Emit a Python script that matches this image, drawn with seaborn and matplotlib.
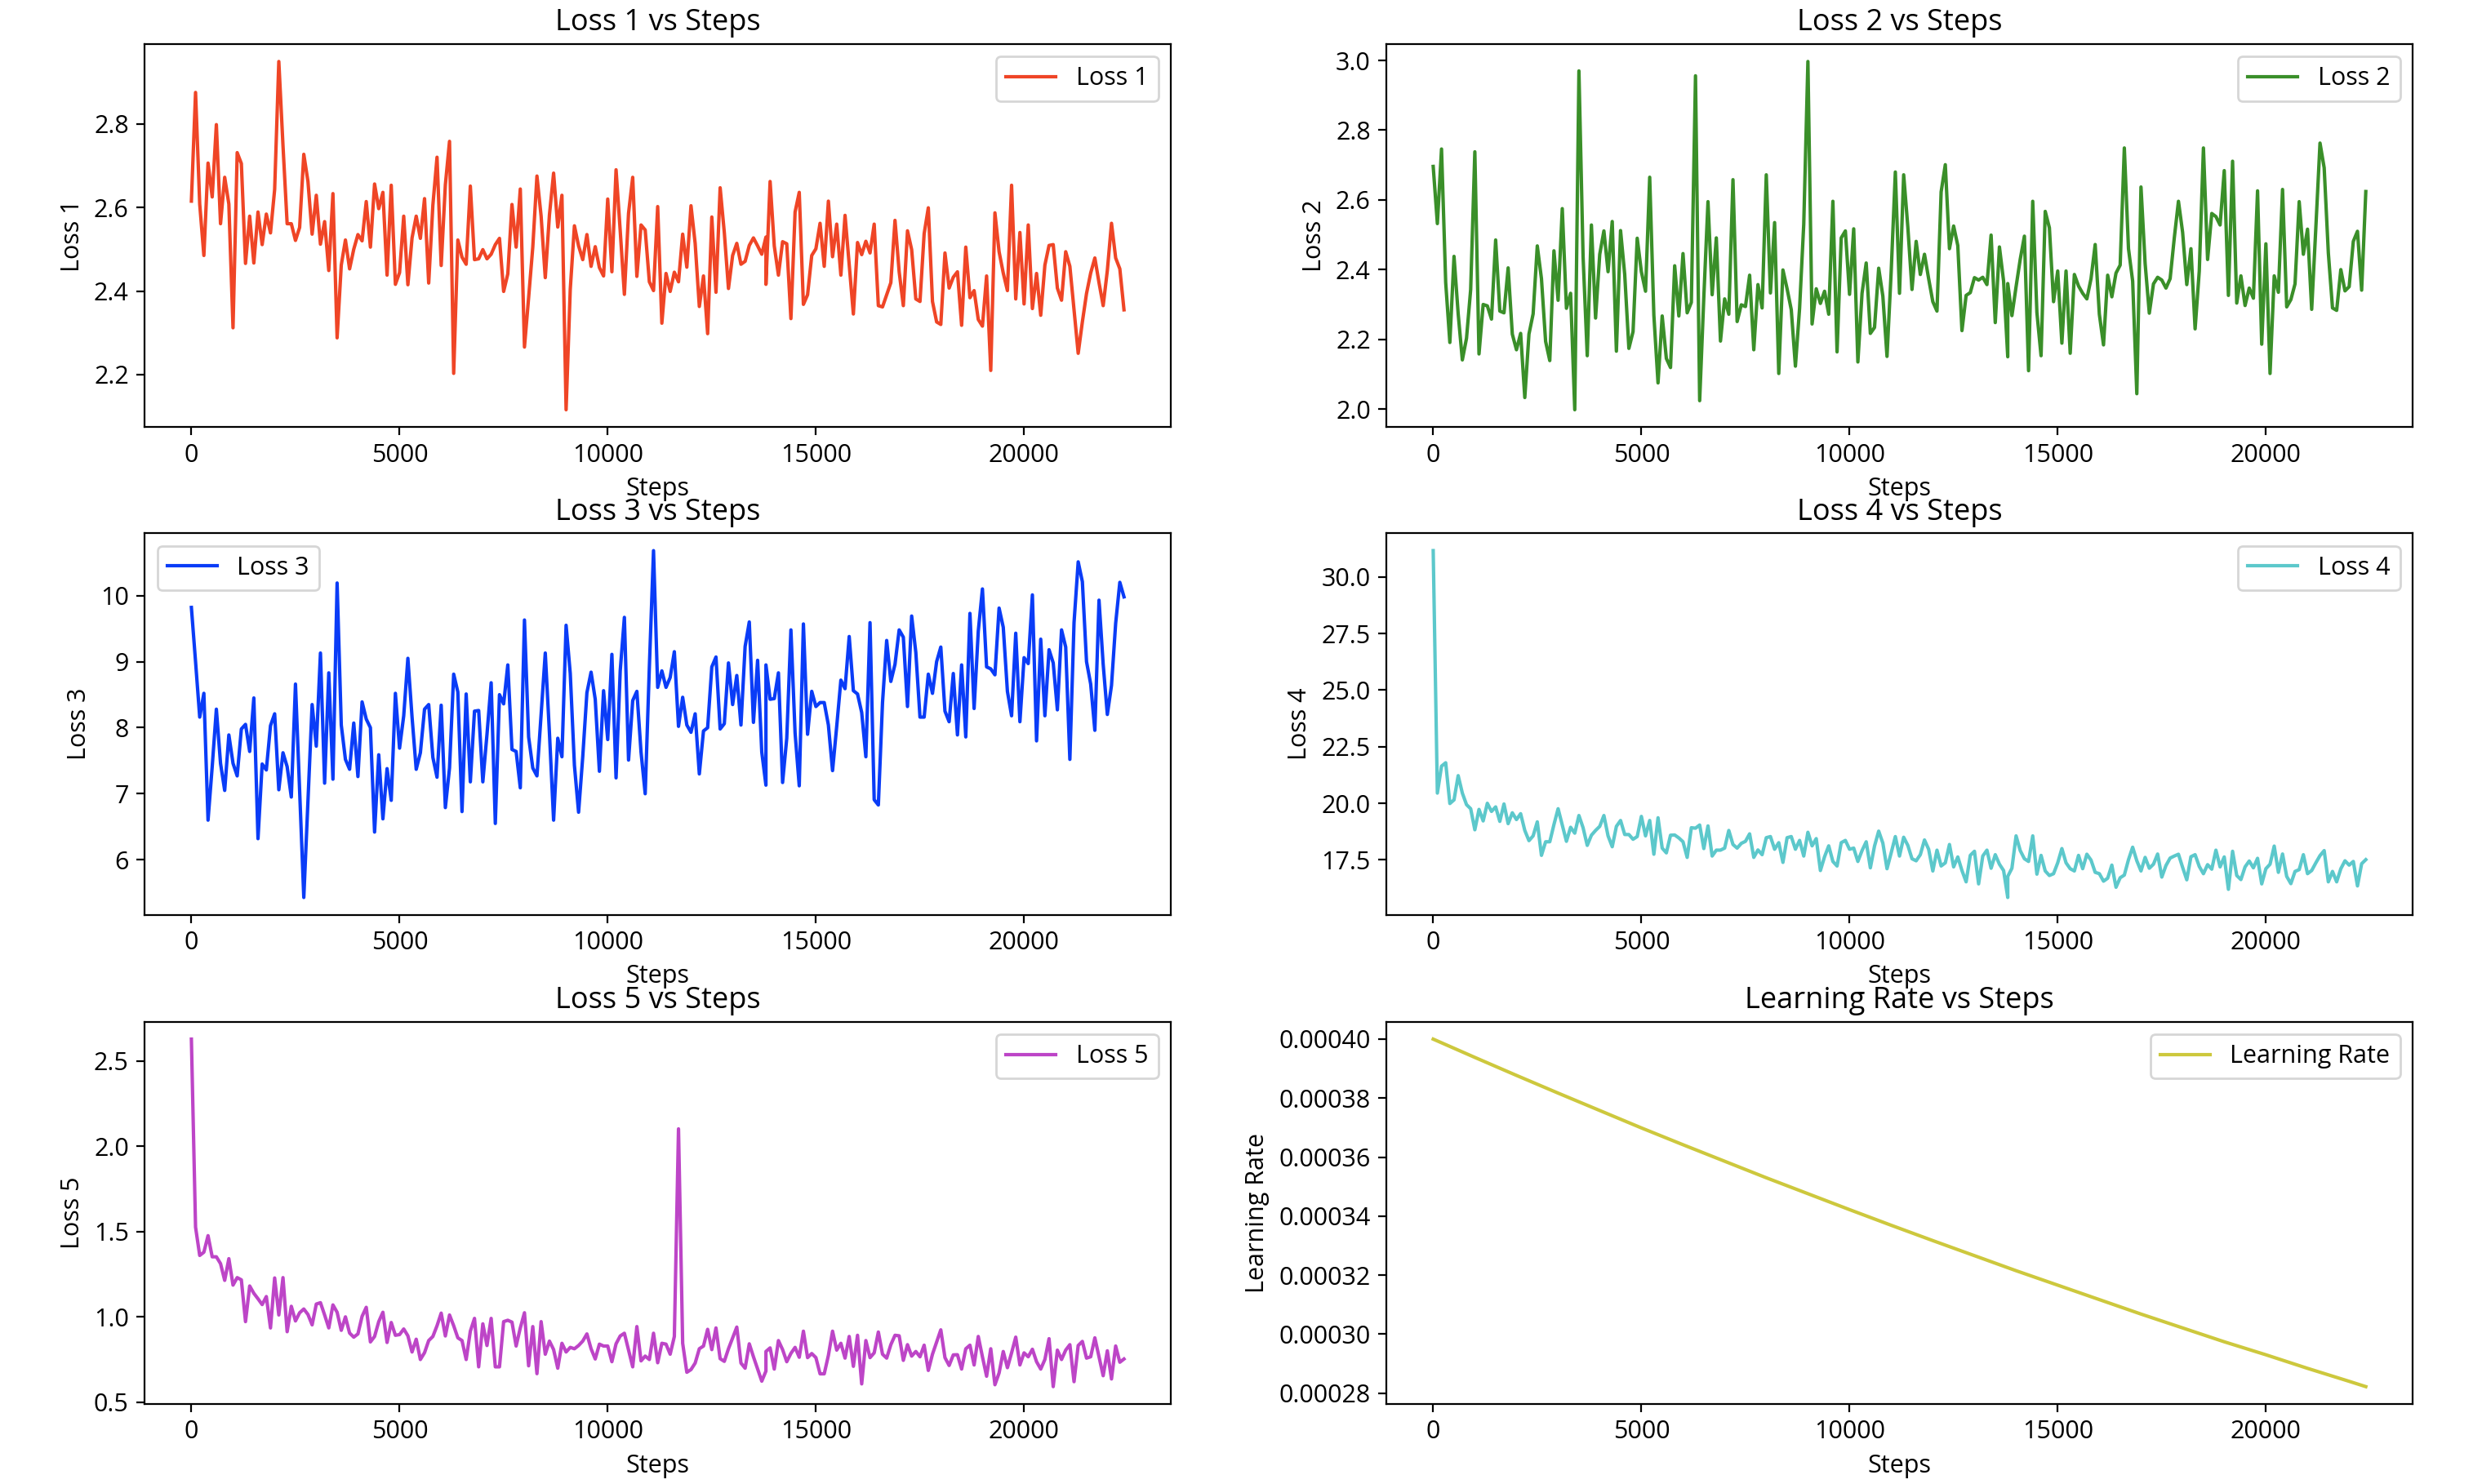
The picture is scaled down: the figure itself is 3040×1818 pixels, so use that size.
import matplotlib
matplotlib.use("Agg")
import matplotlib.pyplot as plt
import pandas as pd
import seaborn as sns

# Logged steps (step 13800 appears twice in the log)
steps = list(range(0, 13900, 100)) + list(range(13800, 22500, 100))

loss1 = [
    2.615, 2.875, 2.608, 2.485, 2.706, 2.625, 2.798, 2.561, 2.672, 2.608,
    2.312, 2.731, 2.705, 2.466, 2.579, 2.467, 2.589, 2.511, 2.584, 2.539,
    2.643, 2.949, 2.748, 2.561, 2.561, 2.521, 2.552, 2.727, 2.662, 2.536,
    2.629, 2.512, 2.566, 2.449, 2.633, 2.288, 2.462, 2.522, 2.453, 2.500,
    2.535, 2.520, 2.614, 2.505, 2.656, 2.597, 2.636, 2.438, 2.653, 2.416,
    2.444, 2.579, 2.415, 2.527, 2.579, 2.526, 2.621, 2.419, 2.605, 2.720,
    2.461, 2.654, 2.758, 2.203, 2.522, 2.481, 2.464, 2.651, 2.475, 2.477,
    2.499, 2.477, 2.488, 2.511, 2.526, 2.399, 2.441, 2.607, 2.505, 2.644,
    2.266, 2.384, 2.505, 2.675, 2.579, 2.432, 2.582, 2.682, 2.553, 2.629,
    2.116, 2.404, 2.556, 2.508, 2.475, 2.535, 2.459, 2.506, 2.456, 2.436,
    2.620, 2.446, 2.690, 2.544, 2.392, 2.586, 2.672, 2.435, 2.558, 2.546,
    2.422, 2.401, 2.602, 2.323,
    2.442, 2.399, 2.445, 2.422, 2.536, 2.457, 2.604, 2.514, 2.363, 2.436,
    2.298, 2.577, 2.397, 2.647, 2.540, 2.406, 2.485, 2.514, 2.464, 2.471,
    2.509, 2.527, 2.508, 2.488,
    2.529, 2.416,
    2.662, 2.508, 2.438, 2.518, 2.513, 2.334, 2.589, 2.636, 2.368, 2.391,
    2.485, 2.501, 2.562, 2.459, 2.615, 2.482, 2.560, 2.438, 2.581, 2.462,
    2.345, 2.516, 2.487, 2.519, 2.491, 2.560, 2.365, 2.362, 2.391, 2.420,
    2.569, 2.446, 2.365, 2.544, 2.499, 2.381, 2.375, 2.537, 2.599, 2.375,
    2.326, 2.320, 2.491, 2.407, 2.433, 2.446, 2.318, 2.505, 2.384, 2.401,
    2.332, 2.316, 2.436, 2.210, 2.587, 2.494, 2.443, 2.401, 2.653, 2.381,
    2.540, 2.369, 2.558, 2.358, 2.442, 2.342, 2.462, 2.509, 2.511, 2.407,
    2.378, 2.494, 2.459, 2.355, 2.251, 2.326, 2.394, 2.443, 2.479, 2.420,
    2.365, 2.449, 2.562, 2.479, 2.453, 2.355,
]

loss2 = [
    2.696, 2.532, 2.746, 2.363, 2.191, 2.438, 2.273, 2.141, 2.203, 2.343,
    2.738, 2.158, 2.300, 2.296, 2.258, 2.485, 2.281, 2.276, 2.405, 2.215,
    2.170, 2.217, 2.033, 2.215, 2.273, 2.468, 2.374, 2.194, 2.139, 2.454,
    2.312, 2.575, 2.289, 2.332, 1.998, 2.970, 2.437, 2.153, 2.528, 2.261,
    2.444, 2.511, 2.394, 2.538, 2.166, 2.512, 2.386, 2.174, 2.222, 2.490,
    2.394, 2.338, 2.665, 2.269, 2.075, 2.267, 2.145, 2.119, 2.411, 2.267,
    2.446, 2.276, 2.306, 2.956, 2.024, 2.321, 2.595, 2.328, 2.491, 2.195,
    2.316, 2.272, 2.658, 2.251, 2.299, 2.294, 2.384, 2.170, 2.357, 2.290,
    2.672, 2.333, 2.535, 2.102, 2.399, 2.345, 2.285, 2.123, 2.289, 2.530,
    2.997, 2.244, 2.345, 2.303, 2.338, 2.272, 2.596, 2.164, 2.491, 2.511,
    2.329, 2.517, 2.135, 2.332, 2.419, 2.217, 2.234, 2.404, 2.324, 2.151,
    2.394, 2.680, 2.332, 2.672, 2.522,
    2.343, 2.481, 2.386, 2.444, 2.374, 2.308, 2.281, 2.623, 2.701, 2.460,
    2.525, 2.469, 2.225, 2.326, 2.334, 2.377, 2.370, 2.378, 2.357, 2.499,
    2.248, 2.465, 2.367, 2.150,
    2.360,
    2.268, 2.351, 2.430, 2.496, 2.110, 2.596, 2.277, 2.153, 2.567, 2.520,
    2.308, 2.396, 2.189, 2.396, 2.160, 2.386, 2.353, 2.332, 2.316, 2.374,
    2.472, 2.272, 2.184, 2.384, 2.322, 2.390, 2.413, 2.749, 2.460, 2.367,
    2.044, 2.637, 2.417, 2.275, 2.359, 2.378, 2.370, 2.347, 2.374, 2.491,
    2.596, 2.507, 2.357, 2.460, 2.230, 2.396, 2.749, 2.429, 2.561, 2.552,
    2.528, 2.684, 2.326, 2.711, 2.304, 2.382, 2.297, 2.347, 2.318, 2.626,
    2.186, 2.474, 2.102, 2.382, 2.335, 2.630, 2.293, 2.314, 2.359, 2.595,
    2.444, 2.516, 2.286, 2.521, 2.763, 2.692, 2.448, 2.290, 2.283, 2.400,
    2.339, 2.351, 2.481, 2.510, 2.341, 2.624,
]

loss3 = [
    9.82, 9.00, 8.16, 8.52, 6.60, 7.41, 8.28, 7.46, 7.05, 7.89,
    7.46, 7.27, 7.98, 8.05, 7.64, 8.45, 6.32, 7.45, 7.36, 8.03,
    8.21, 7.06, 7.62, 7.41, 6.95, 8.66, 7.05, 5.43, 6.90, 8.35,
    7.72, 9.13, 7.16, 8.83, 7.22, 10.19, 8.04, 7.52, 7.37, 8.07,
    7.26, 8.39, 8.13, 8.00, 6.42, 7.59, 6.62, 7.38, 6.90, 8.52,
    7.69, 8.18, 9.05, 8.16, 7.37, 7.62, 8.28, 8.35, 7.55, 7.25,
    8.34, 6.79, 7.39, 8.81, 8.54, 6.73, 8.51, 7.18, 8.25, 8.26,
    7.18, 7.90, 8.68, 6.55, 8.50, 8.36, 8.95, 7.67, 7.64, 7.09,
    9.63, 7.86, 7.39, 7.27, 8.20, 9.13, 7.92, 6.60, 7.84, 7.56,
    9.55, 8.82, 7.43, 6.72, 7.56, 8.53, 8.84, 8.43, 7.34, 8.56,
    7.82, 9.11, 7.24, 8.86, 9.67, 7.51, 8.41, 8.55, 7.63, 7.00,
    8.92, 10.68,
    8.61, 8.86, 8.61, 8.76, 9.15, 8.02, 8.46, 8.04, 7.93, 8.21,
    7.30, 7.95, 8.00, 8.92, 9.07, 7.98, 8.06, 8.98, 8.35, 8.79,
    8.04, 9.23, 9.60, 8.08, 9.02, 7.63,
    7.13, 8.95,
    8.43, 8.44, 8.83, 7.17, 7.84, 9.48, 7.92, 7.12, 9.57, 7.90,
    8.55, 8.32, 8.38, 8.38, 8.04, 7.35, 8.02, 8.72, 8.59, 9.38,
    8.56, 8.51, 8.23, 7.56, 9.59, 6.91, 6.83, 8.38, 9.32, 8.70,
    8.96, 9.48, 9.37, 8.32, 9.69, 9.14, 8.16, 8.16, 8.81, 8.52,
    9.00, 9.22, 8.25, 8.09, 8.82, 7.89, 8.95, 7.86, 9.73, 8.29,
    9.46, 10.10, 8.92, 8.89, 8.80, 9.81, 9.52, 8.55, 8.18, 9.43,
    8.09, 9.06, 8.97, 10.01, 7.80, 9.34, 8.18, 9.18, 8.98, 8.27,
    9.48, 9.22, 7.52, 9.59, 10.51, 10.21, 9.00, 8.66, 7.96, 9.93,
    8.96, 8.20, 8.64, 9.58, 10.20, 9.98,
]

loss4 = [
    31.16, 20.45, 21.64, 21.79, 19.99, 20.15, 21.22, 20.45, 19.94, 19.76,
    18.83, 19.73, 19.22, 20.00, 19.64, 19.84, 19.20, 19.97, 19.10, 19.58,
    19.28, 19.54, 18.80, 18.35, 18.56, 19.18, 17.70, 18.30, 18.30, 19.06,
    19.76, 19.04, 18.32, 18.94, 18.68, 19.46, 18.92, 18.14, 18.59, 18.80,
    18.98, 19.46, 18.56, 18.08, 18.98, 19.24, 18.62, 18.62, 18.41, 18.53,
    19.42, 18.56, 19.24, 17.75, 19.36, 18.02, 17.81, 18.59, 18.60, 18.47,
    18.30, 17.61, 18.92, 18.90, 19.04, 18.00, 19.00, 17.67, 17.93, 17.93,
    18.02, 18.80, 18.18, 18.02, 18.23, 18.32, 18.65, 17.61, 17.94, 17.73,
    18.48, 18.53, 17.97, 18.26, 17.39, 18.48, 18.53, 17.97, 18.36, 17.67,
    18.72, 18.12, 18.44, 17.03, 17.64, 18.12, 17.43, 17.23, 18.26, 18.36,
    17.97, 18.02, 17.43, 17.91, 18.30, 17.15, 18.11, 18.77, 18.24, 17.11,
    17.81, 18.53, 17.67, 18.50, 18.14, 17.55,
    17.46, 17.73, 18.38, 17.97, 17.01, 17.93, 17.23, 17.37, 18.18, 17.19,
    17.63, 17.03, 16.53, 17.70, 17.88, 16.44, 17.67, 17.93, 17.13, 17.73,
    17.31, 17.03,
    15.84, 16.77,
    17.13, 18.56, 17.91, 17.55, 17.43, 18.56, 16.87, 17.70, 17.01, 16.81,
    16.89, 17.37, 18.00, 17.37, 17.11, 17.01, 17.70, 17.11, 17.75, 17.49,
    16.95, 16.89, 16.56, 16.69, 17.27, 16.29, 16.71, 16.83, 17.51, 18.06,
    17.46, 17.01, 17.61, 17.13, 17.31, 17.76, 16.74, 17.25, 17.58, 17.67,
    17.75, 17.17, 16.62, 17.64, 17.73, 17.21, 16.89, 17.29, 17.09, 17.93,
    17.19, 17.63, 16.20, 17.88, 16.81, 16.63, 17.19, 17.45, 17.15, 17.57,
    16.44, 17.11, 17.31, 18.11, 16.95, 17.76, 16.77, 16.45, 16.99, 17.07,
    17.73, 16.89, 17.03, 17.37, 17.69, 17.91, 16.53, 16.99, 16.53, 17.11,
    17.46, 17.27, 17.43, 16.35, 17.33, 17.51,
]

loss5 = [
    2.627, 1.525, 1.359, 1.378, 1.475, 1.351, 1.351, 1.311, 1.213, 1.340,
    1.185, 1.229, 1.216, 0.971, 1.180, 1.137, 1.105, 1.071, 1.118, 0.934,
    1.227, 1.010, 1.229, 0.912, 1.061, 0.975, 1.023, 1.045, 1.013, 0.952,
    1.074, 1.082, 1.010, 0.934, 1.069, 1.026, 0.920, 0.999, 0.904, 0.880,
    0.899, 1.002, 1.055, 0.852, 0.884, 0.971, 1.026, 0.849, 0.966, 0.891,
    0.895, 0.928, 0.888, 0.793, 0.868, 0.749, 0.789, 0.860, 0.884, 0.947,
    1.021, 0.887, 1.010, 0.947, 0.876, 0.860, 0.749, 0.915, 0.990, 0.706,
    0.958, 0.831, 0.990, 0.706, 0.706, 0.971, 0.979, 0.968, 0.828, 0.934,
    1.023, 0.712, 0.942, 0.666, 0.971, 0.780, 0.857, 0.807, 0.698, 0.844,
    0.793, 0.820, 0.812, 0.831, 0.857, 0.899, 0.812, 0.752, 0.839, 0.828,
    0.828, 0.736, 0.841, 0.887, 0.903, 0.804, 0.706, 0.942, 0.741, 0.769,
    0.749, 0.903, 0.730, 0.844,
    0.839, 0.780, 0.884, 2.101, 0.844, 0.674, 0.690, 0.728, 0.812, 0.828,
    0.926, 0.807, 0.934, 0.754, 0.738, 0.812, 0.876, 0.939, 0.728, 0.698,
    0.841, 0.765, 0.693, 0.622,
    0.681, 0.796,
    0.817, 0.693, 0.860, 0.807, 0.736, 0.785, 0.820, 0.762, 0.915, 0.760,
    0.784, 0.760, 0.665, 0.665, 0.773, 0.915, 0.804, 0.844, 0.757, 0.884,
    0.709, 0.891, 0.606, 0.860, 0.760, 0.788, 0.910, 0.780, 0.757, 0.836,
    0.891, 0.888, 0.744, 0.836, 0.769, 0.796, 0.765, 0.833, 0.685, 0.780,
    0.852, 0.923, 0.760, 0.714, 0.776, 0.777, 0.693, 0.812, 0.833, 0.717,
    0.884, 0.765, 0.651, 0.812, 0.601, 0.670, 0.796, 0.701, 0.788, 0.880,
    0.717, 0.788, 0.765, 0.809, 0.736, 0.693, 0.749, 0.871, 0.590, 0.804,
    0.749, 0.804, 0.836, 0.619, 0.831, 0.855, 0.757, 0.765, 0.876, 0.765,
    0.654, 0.800, 0.635, 0.828, 0.733, 0.752,
]

lr_steps = [0, 1000, 2000, 3000, 4000, 5000, 6000, 7000, 8000, 9000, 10000,
            11000, 12000, 13000, 14000, 15000, 16000, 17000, 18000, 19000,
            20000, 21000, 22000, 22400]
lr_values = [0.0004000, 0.0003938, 0.0003877, 0.0003817, 0.0003758, 0.0003699,
             0.0003642, 0.0003586, 0.0003530, 0.0003476, 0.0003422, 0.0003369,
             0.0003317, 0.0003266, 0.0003215, 0.0003166, 0.0003117, 0.0003068,
             0.0003021, 0.0002974, 0.0002930, 0.0002884, 0.0002840, 0.0002822]

names = ["Loss 1", "Loss 2", "Loss 3", "Loss 4", "Loss 5", "Learning Rate"]
colors = ["#ef4526", "#3a8f29", "#0a3cf7", "#5cc8cb", "#bd45c7", "#cdc83d"]
legend_locs = ["upper right", "upper right", "upper left",
               "upper right", "upper right", "upper right"]

plt.rcParams['font.family'] = ['Open Sans', 'DejaVu Sans']
plt.rcParams['font.size'] = 11

fig = plt.figure(figsize=(15.2, 9.09), dpi=200)
W, H = 3040.0, 1818.0
col_left = [177.3, 1698.3]
col_width = 1256.5
rows = [(54.0, 523.3), (653.3, 1120.7), (1251.7, 1720.0)]

series = [
    (steps, loss1), (steps, loss2), (steps, loss3),
    (steps, loss4), (steps, loss5), (lr_steps, lr_values),
]

for i, (name, color, loc, (xs, ys)) in enumerate(zip(names, colors, legend_locs, series)):
    r, c = divmod(i, 2)
    top, bottom = rows[r]
    ax = fig.add_axes([col_left[c] / W, 1 - bottom / H, col_width / W, (bottom - top) / H])
    df = pd.DataFrame({"Steps": xs, name: ys})
    sns.lineplot(data=df, x="Steps", y=name, ax=ax, color=color, linewidth=1.5,
                 label=name, estimator=None, sort=False)
    ax.set_title(f"{name} vs Steps", fontsize=13)
    ax.set_xlabel("Steps")
    ax.set_ylabel(name)
    ax.legend(loc=loc)

fig.savefig("out.png", dpi=200)
